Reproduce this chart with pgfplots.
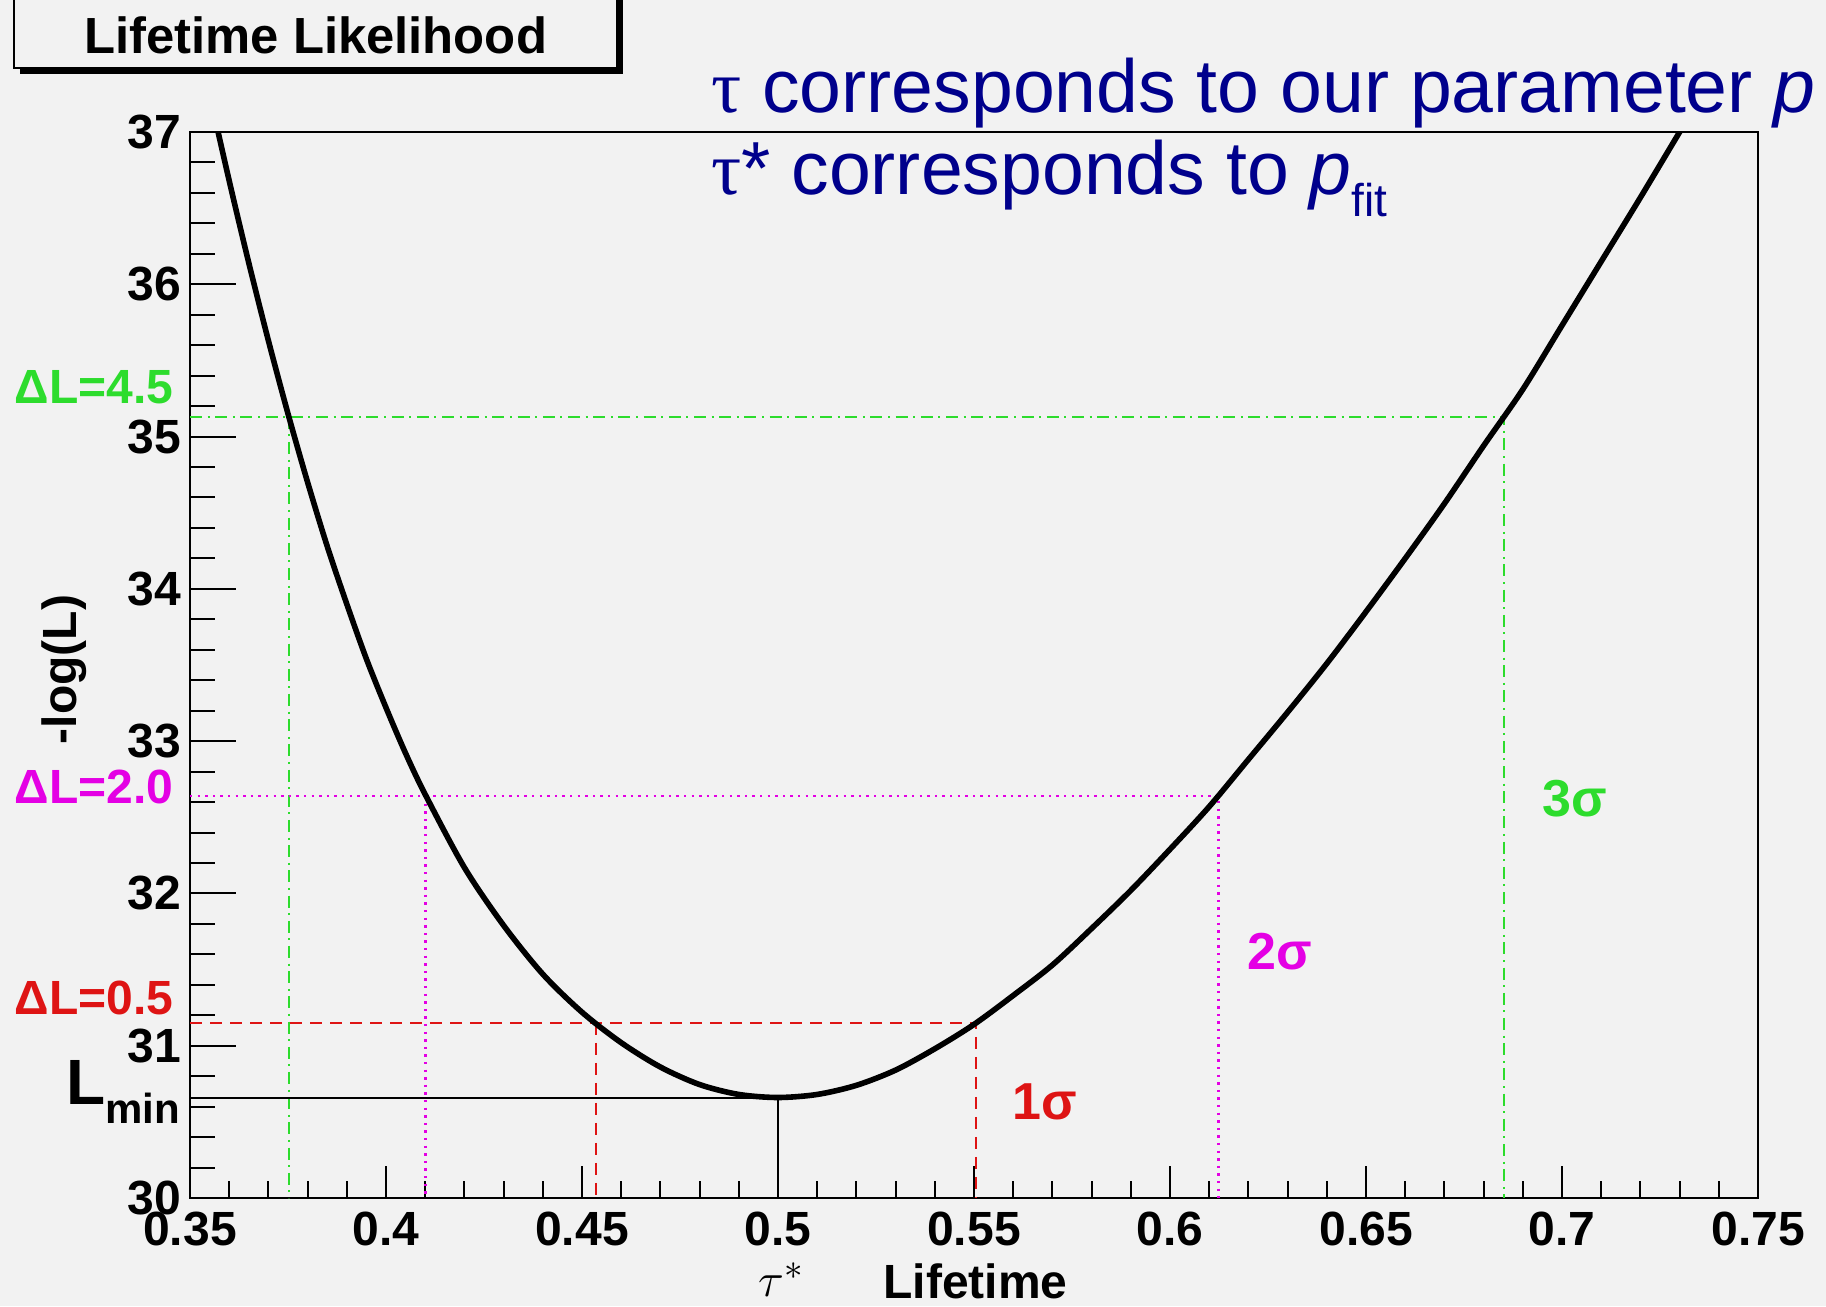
\documentclass[border=0pt]{standalone}
\usepackage{fontspec}
\setmainfont{Liberation Sans}
\newfontfamily\serif{Liberation Serif}
\usepackage{pgfplots}
\pgfplotsset{compat=1.18}
\definecolor{bg}{RGB}{242,242,242}
\definecolor{rgreen}{RGB}{45,220,45}
\definecolor{rmag}{RGB}{228,0,228}
\definecolor{rred}{RGB}{222,20,20}
\definecolor{navy}{RGB}{0,0,140}
\begin{document}
\begin{tikzpicture}
\fill[bg] (0,0) rectangle (456.5pt,326.5pt);
% title box with shadow
\fill[black] (4.9pt,308.1pt) rectangle (155.65pt,335pt);
\filldraw[fill=bg, draw=black, line width=0.5pt] (3.5pt,309.5pt) rectangle (154.25pt,335pt);
\node[font=\fontsize{12.7}{14}\selectfont\bfseries] at (78.9pt,317.75pt) {Lifetime Likelihood};
\begin{axis}[
  at={(47.5pt,27pt)}, anchor=south west, scale only axis,
  width=392pt, height=266.5pt,
  xmin=0.35, xmax=0.75, ymin=30, ymax=37,
  xtick={0.35,0.4,0.45,0.5,0.55,0.6,0.65,0.7,0.75},
  xticklabels={0.35,0.4,0.45,0.5,0.55,0.6,0.65,0.7,0.75},
  ytick={30,31,32,33,34,35,36,37},
  yticklabels={30,31,32,33,34,35,36,37},
  minor x tick num=4, minor y tick num=4,
  xtick pos=left, ytick pos=left,
  tick align=inside,
  xtick style={black, line width=0.5pt, /pgfplots/major tick length=8pt, /pgfplots/minor tick length=4.2pt},
  ytick style={black, line width=0.5pt, /pgfplots/major tick length=11.5pt, /pgfplots/minor tick length=6.2pt},
  axis line style={black, line width=0.6pt},
  ticklabel style={font=\fontsize{12}{12}\selectfont\bfseries},
  yticklabel style={xshift=1.3pt},
  axis background/.style={fill=bg},
]
% Delta L = 4.5 (3 sigma)
\addplot[rgreen, line width=0.6pt, dash pattern=on 3pt off 1.4pt on 0.5pt off 1.4pt] coordinates {(0.35,35.13) (0.6852,35.13) (0.6852,30)};
\addplot[rgreen, line width=0.6pt, dash pattern=on 3pt off 1.4pt on 0.5pt off 1.4pt] coordinates {(0.3752,35.13) (0.3752,30)};
% Delta L = 2.0 (2 sigma)
\addplot[rmag, line width=0.6pt, dash pattern=on 0.6pt off 1.3pt] coordinates {(0.35,32.64) (0.6124,32.64) (0.6124,30)};
\addplot[rmag, line width=0.6pt, dash pattern=on 0.6pt off 1.3pt] coordinates {(0.4101,32.64) (0.4101,30)};
% Delta L = 0.5 (1 sigma)
\addplot[rred, line width=0.6pt, dash pattern=on 3pt off 2pt] coordinates {(0.35,31.15) (0.5505,31.15) (0.5505,30)};
\addplot[rred, line width=0.6pt, dash pattern=on 3pt off 2pt] coordinates {(0.4536,31.15) (0.4536,30)};
% L min
\addplot[black, line width=0.5pt] coordinates {(0.35,30.66) (0.5,30.66) (0.5,30)};
% likelihood curve
\addplot[black, line width=1.4pt, smooth] coordinates {
(0.350,37.85) (0.355,37.25) (0.360,36.68) (0.365,36.14) (0.370,35.63) (0.375,35.15)
(0.380,34.70) (0.385,34.28) (0.390,33.90) (0.395,33.54) (0.400,33.22) (0.405,32.92)
(0.410,32.65) (0.420,32.17) (0.430,31.79) (0.440,31.47) (0.450,31.22) (0.460,31.02)
(0.470,30.86) (0.480,30.745) (0.490,30.68) (0.500,30.66) (0.510,30.68) (0.520,30.74)
(0.530,30.84) (0.540,30.98) (0.550,31.14) (0.560,31.33) (0.570,31.53) (0.580,31.77)
(0.590,32.02) (0.600,32.29) (0.610,32.57) (0.620,32.88) (0.630,33.19) (0.640,33.51)
(0.650,33.85) (0.660,34.20) (0.670,34.56) (0.680,34.94) (0.690,35.31) (0.700,35.73)
(0.710,36.15) (0.720,36.57) (0.730,37.00) (0.740,37.43)};
\node[rred, font=\fontsize{13}{13}\selectfont\bfseries] at (axis cs:0.568,30.63) {1σ};
\node[rmag, font=\fontsize{13}{13}\selectfont\bfseries] at (axis cs:0.628,31.62) {2σ};
\node[rgreen, font=\fontsize{13}{13}\selectfont\bfseries] at (axis cs:0.7033,32.62) {3σ};
\end{axis}
% labels outside the axis
\node[rotate=90, font=\fontsize{12}{12}\selectfont\bfseries] at (16pt,159.1pt) {-log(L)};
\node[font=\fontsize{12}{12}\selectfont\bfseries] at (243.9pt,6.25pt) {Lifetime};
\node[font=\fontsize{12.5}{12.5}\selectfont, inner sep=0pt] at (195.5pt,6.6pt) {$\tau^{*}$};
\node[anchor=west, rgreen, font=\fontsize{12}{12}\selectfont\bfseries, inner sep=0pt] at (3.5pt,229.6pt) {ΔL=4.5};
\node[anchor=west, rmag, font=\fontsize{12}{12}\selectfont\bfseries, inner sep=0pt] at (3.5pt,129.7pt) {ΔL=2.0};
\node[anchor=west, rred, font=\fontsize{12}{12}\selectfont\bfseries, inner sep=0pt] at (3.5pt,77pt) {ΔL=0.5};
\node[anchor=base east, inner sep=0pt, font=\bfseries] at (45.2pt,50.5pt) {\fontsize{16}{16}\selectfont L\raisebox{-0.3em}{\fontsize{10.5}{10.5}\selectfont min}};
% blue annotation
\node[anchor=base west, navy, inner sep=0pt, font=\fontsize{18.8}{20}\selectfont] at (177.6pt,298.25pt) {{\serif τ} corresponds to our parameter \textit{p}};
\node[anchor=base west, navy, inner sep=0pt, font=\fontsize{18.8}{20}\selectfont] at (177.6pt,277.9pt) {{\serif τ}* corresponds to \textit{p}\raisebox{-0.3em}{\fontsize{11.5}{11.5}\selectfont fit}};
\pgfresetboundingbox
\useasboundingbox (0,0) rectangle (456.5pt,326.5pt);
\end{tikzpicture}
\end{document}
